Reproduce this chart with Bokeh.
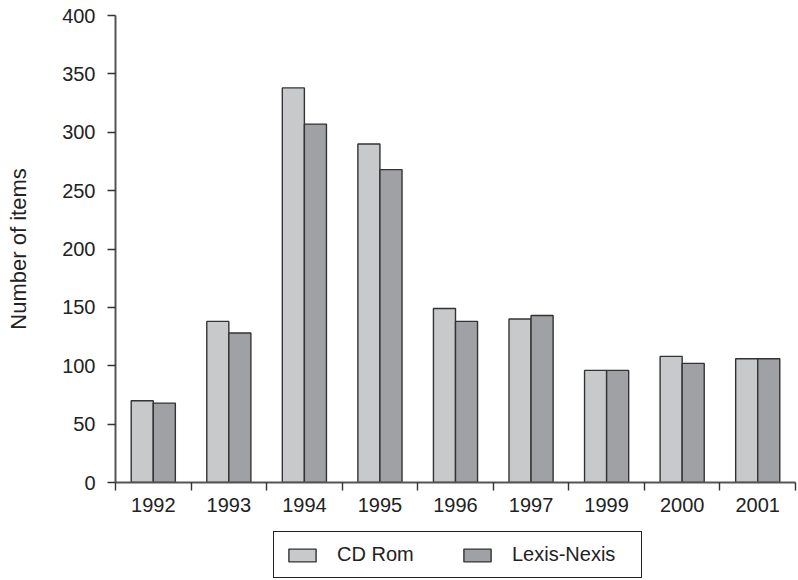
from bokeh.plotting import figure
from bokeh.layouts import column
from bokeh.models import (ColumnDataSource, Range1d, FixedTicker, Legend, LegendItem)
from bokeh.embed import file_html
from bokeh.resources import INLINE

years = ["1992", "1993", "1994", "1995", "1996", "1997", "1999", "2000", "2001"]
cd_rom = [70, 138, 338, 290, 149, 140, 96, 108, 106]
lexis_nexis = [68, 128, 307, 268, 138, 143, 96, 102, 106]
series_names = ["CD Rom", "Lexis-Nexis"]
y_ticks = [0, 50, 100, 150, 200, 250, 300, 350, 400]

FONT = "Liberation Sans"
CD_COLOR = "#c8c9cb"
LN_COLOR = "#a0a1a5"
n = len(years)
idx = list(range(n))

src = ColumnDataSource(dict(
    x_cd=[i + 0.5 - 0.146 for i in idx],
    x_ln=[i + 0.5 + 0.146 for i in idx],
    cd=cd_rom, ln=lexis_nexis, year=years))

p = figure(frame_width=680, frame_height=467, output_backend="svg", toolbar_location=None,
           x_range=Range1d(0, n), y_range=Range1d(0, 400),
           min_border_left=115, min_border_right=3, min_border_top=15,
           min_border_bottom=45)

bw = 0.292
p.vbar(x="x_cd", top="cd", width=bw, bottom=0, source=src,
       fill_color=CD_COLOR, line_color="#333333", line_width=1.4)
p.vbar(x="x_ln", top="ln", width=bw, bottom=0, source=src,
       fill_color=LN_COLOR, line_color="#333333", line_width=1.4)

p.xgrid.visible = False
p.ygrid.visible = False
p.outline_line_color = None
p.background_fill_color = "white"

xa = p.xaxis[0]
xa.ticker = FixedTicker(ticks=[i + 0.5 for i in idx], minor_ticks=list(range(n + 1)))
xa.major_label_overrides = {i + 0.5: years[i] for i in idx}
xa.major_tick_out = 0
xa.major_tick_in = 0
xa.minor_tick_out = 8
xa.minor_tick_in = 0
xa.minor_tick_line_color = "#333333"
xa.minor_tick_line_width = 1.4
xa.axis_line_color = "#555555"
xa.axis_line_width = 2
xa.major_label_text_font = FONT
xa.major_label_text_font_size = "20px"
xa.major_label_text_color = "#222222"
xa.major_label_standoff = 7

ya = p.yaxis[0]
ya.ticker = FixedTicker(ticks=y_ticks)
ya.minor_tick_line_color = None
ya.major_tick_out = 8
ya.major_tick_in = 0
ya.major_tick_line_color = "#333333"
ya.major_tick_line_width = 1.4
ya.axis_line_color = "#555555"
ya.axis_line_width = 2
ya.major_label_text_font = FONT
ya.major_label_text_font_size = "20px"
ya.major_label_text_color = "#222222"
ya.major_label_standoff = 12
ya.axis_label = "Number of items"
ya.axis_label_text_font = FONT
ya.axis_label_text_font_size = "22px"
ya.axis_label_text_font_style = "normal"
ya.axis_label_text_color = "#222222"
ya.axis_label_standoff = 28

# legend strip below the chart; its renderers are hidden and only
# supply the legend swatches
pl = figure(width=798, height=53, output_backend="svg", toolbar_location=None,
            x_axis_location=None, y_axis_location=None,
            x_range=Range1d(0, n), y_range=Range1d(0, 400),
            min_border=0, outline_line_color=None)
pl.xgrid.visible = False
pl.ygrid.visible = False
l_cd = pl.vbar(x="x_cd", top="cd", width=bw, bottom=0, source=src,
               fill_color=CD_COLOR, line_color="#333333", line_width=1.4)
l_ln = pl.vbar(x="x_ln", top="ln", width=bw, bottom=0, source=src,
               fill_color=LN_COLOR, line_color="#333333", line_width=1.4)
l_cd.visible = False
l_ln.visible = False

legend = Legend(items=[LegendItem(label=series_names[0], renderers=[l_cd]),
                       LegendItem(label=series_names[1], renderers=[l_ln])],
                orientation="horizontal", location=(158, 2),
                glyph_width=34, glyph_height=16, spacing=5,
                label_width=118,
                label_text_font=FONT, label_text_font_size="20px",
                label_text_color="#222222", label_standoff=18,
                border_line_color="#222222", border_line_alpha=1.0,
                border_line_width=1.4, click_policy="none",
                padding=11, margin=0)
pl.add_layout(legend, "center")

open("out.html", "w").write(file_html(column(p, pl, spacing=0), INLINE))
